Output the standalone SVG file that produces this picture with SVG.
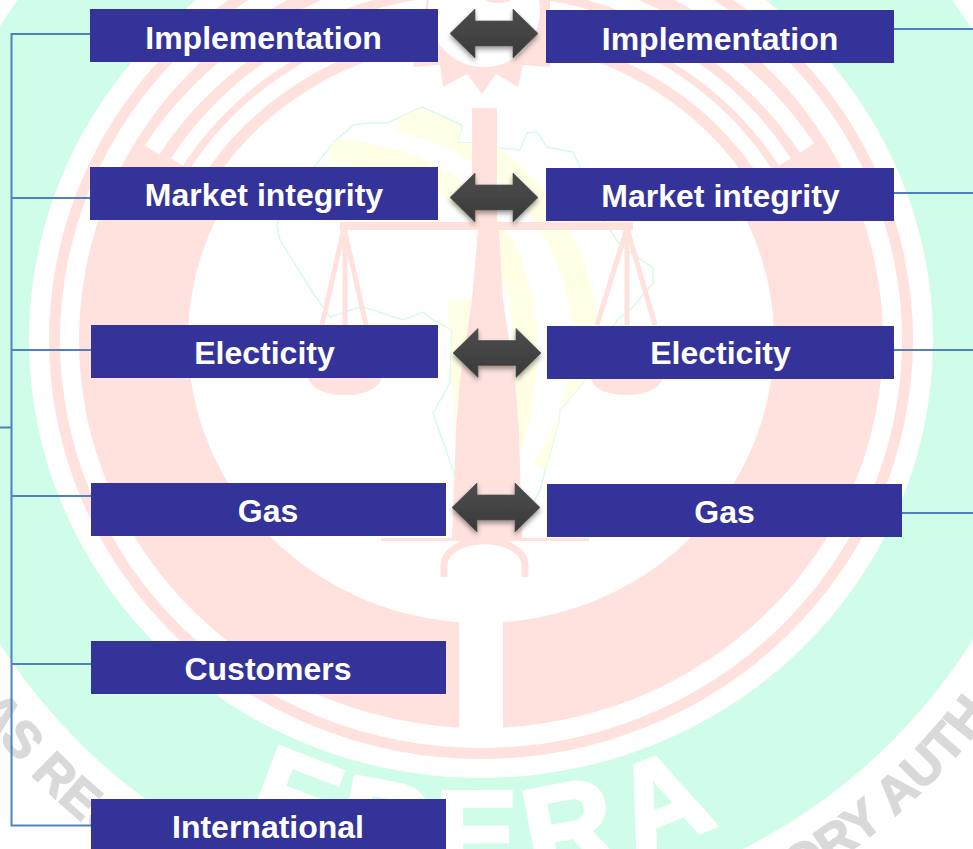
<svg xmlns="http://www.w3.org/2000/svg" xmlns:xlink="http://www.w3.org/1999/xlink" width="973" height="849" viewBox="0 0 973 849">
<style>
.p{fill:#FFE2DD}.w{fill:#fff}
.ps{fill:none;stroke:#FFE2DD}
.slit{fill:none;stroke:#fff}
.y{fill:none;stroke:#FFFFE6}
.box{fill:#343399}
.lbl{font-family:"Liberation Sans",Arial,sans-serif;font-weight:700;font-size:32px;fill:#fff;text-anchor:middle}
.wm{font-family:"Liberation Sans",Arial,sans-serif;font-weight:700;font-size:51px;fill:#D9D9D9;stroke:#D9D9D9;stroke-width:1.5}
.big{font-family:"Liberation Sans",Arial,sans-serif;font-weight:700;font-size:125px;fill:#fff;stroke:#fff;stroke-width:4;letter-spacing:14px;text-anchor:middle}
.c{fill:none;stroke:#4F81BD;stroke-width:2}
</style>
<defs>
<clipPath id="upper"><rect x="0" y="0" width="973" height="190"/></clipPath>
<clipPath id="afr"><polygon points="422,107 462,125 458,143 473,143 500,148 520,150 527,133 537,132 547,147 573,152 580,167 600,215 620,245 653,268 653,283 633,307 617,320 583,383 560,410 559,420 540,490 522,525 470,525 453,470 433,413 450,383 452,330 433,320 423,312 403,320 373,310 360,307 330,317 313,293 280,240 277,227 280,205 300,185 333,143 353,125 370,123 387,123"/></clipPath>
<linearGradient id="ag" x1="0" y1="0" x2="0" y2="1"><stop offset="0" stop-color="#4A4A4A"/><stop offset="0.5" stop-color="#444"/><stop offset="1" stop-color="#383838"/></linearGradient>
<filter id="sh" x="-20%" y="-20%" width="140%" height="150%"><feDropShadow dx="0" dy="3" stdDeviation="2.5" flood-color="#000" flood-opacity="0.4"/></filter>
<polygon id="arr" points="0,0 25,-24.500 25,-12.500 63,-12.500 63,-24.500 88,0 63,24.500 63,12.500 25,12.500 25,24.500" fill="url(#ag)" stroke="#555" stroke-width="0.7" filter="url(#sh)"/>
<path id="wmArc" d="M-147 335A632 632 0 0 0 1117 335"/>
<path id="bigArc" d="M-62 335A543 543 0 0 0 1024 335"/>
</defs>

<g id="watermark">
<rect width="973" height="849" class="w"/>
<circle cx="485" cy="335" r="575" fill="#CFFDE9"/>
<text class="wm"><textPath xlink:href="#wmArc" href="#wmArc" startOffset="400">AS REG</textPath></text>
<text class="wm"><textPath xlink:href="#wmArc" href="#wmArc" startOffset="1318">ORY AUTH</textPath></text>
<text class="big"><textPath xlink:href="#bigArc" href="#bigArc" startOffset="859">ERERA</textPath></text>
<ellipse cx="481" cy="340" rx="452" ry="438" class="w"/>
<ellipse cx="481" cy="340" rx="432" ry="419" class="p"/>
<ellipse cx="481" cy="340" rx="421" ry="408" class="w"/>
<ellipse cx="481" cy="340" rx="402" ry="388" class="p"/>
<path class="slit" stroke-width="17" d="M152 150A387 368 0 0 1 807 148"/>
<path class="slit" stroke-width="14" d="M177 162A358 340 0 0 1 785 162"/>
<path class="slit" stroke-width="15" d="M186 190A335 318 0 0 1 776 190"/>
<ellipse cx="481" cy="340" rx="315" ry="299" class="w" clip-path="url(#upper)"/>
<ellipse cx="481" cy="340" rx="293" ry="283" class="w"/>
<rect x="459" y="600" width="44" height="130" class="w"/>
<polygon points="422,107 462,125 458,143 473,143 500,148 520,150 527,133 537,132 547,147 573,152 580,167 600,215 620,245 653,268 653,283 633,307 617,320 583,383 560,410 559,420 540,490 522,525 470,525 453,470 433,413 450,383 452,330 433,320 423,312 403,320 373,310 360,307 330,317 313,293 280,240 277,227 280,205 300,185 333,143 353,125 370,123 387,123" fill="none" stroke="#D8FBE6" stroke-width="1.500"/>
<g clip-path="url(#afr)">
<path class="y" stroke-width="24" d="M330 150Q510 165 525 330Q530 410 495 480"/>
<path class="y" stroke-width="26" d="M400 118Q560 160 585 320Q590 400 545 470"/>
<path class="y" stroke-width="30" d="M462 300L470 440"/>
</g>
<polygon class="p" points="413,67 427,0 550,0 550,67 523,65 518,87 496,74 482,94 467,74 443,87 440,65"/>
<ellipse cx="484" cy="10" rx="56" ry="57" class="w"/>
<ellipse cx="498" cy="0" rx="12" ry="3" class="p"/>
<rect x="472" y="108" width="25" height="117" class="p"/>
<rect x="340" y="222" width="293" height="8" class="p"/>
<polygon class="p" points="478,230 472,300 460,380 456,430 452,540 522,540 519,430 515,380 503,300 499,230"/>
<rect x="381" y="538" width="208" height="3" class="p"/>
<path class="ps" stroke-width="7" d="M444 577V565A40 24 0 0 1 525 565V577"/>
<path class="ps" stroke-width="5" d="M344 228L322 325M344 228L366 325M345 228V325M627 228L597 325M627 228L655 325M627 228V325"/>
<path class="p" d="M308 378H382Q375 395 345 395Q315 395 308 378Z"/>
<path class="p" d="M590 378H663Q656 395 626 395Q597 395 590 378Z"/>
</g>

<g id="connectors">
<path class="c" d="M90 34H11.500V825.500H91M11.500 198H90M11.500 350H91M11.500 496H91M11.500 664H91M0 427.500H11.500"/>
<path class="c" d="M894 29H973M894 193H973M894 350H973M902 513H973"/>
</g>

<g id="node-implementation-left"><rect class="box" x="90" y="9" width="348" height="53"/><text class="lbl" x="263.500" y="49">Implementation</text></g>
<g id="node-market-left"><rect class="box" x="90" y="167" width="348" height="53"/><text class="lbl" x="264" y="206">Market integrity</text></g>
<g id="node-electricity-left"><rect class="box" x="91" y="325" width="347" height="53"/><text class="lbl" x="264.500" y="364">Electicity</text></g>
<g id="node-gas-left"><rect class="box" x="91" y="483" width="355" height="53"/><text class="lbl" x="268" y="522">Gas</text></g>
<g id="node-customers"><rect class="box" x="91" y="641" width="355" height="53"/><text class="lbl" x="268" y="680">Customers</text></g>
<g id="node-international"><rect class="box" x="91" y="799" width="355" height="53"/><text class="lbl" x="268" y="838">International</text></g>
<g id="node-implementation-right"><rect class="box" x="546" y="10" width="348" height="53"/><text class="lbl" x="720" y="50">Implementation</text></g>
<g id="node-market-right"><rect class="box" x="546" y="168" width="348" height="53"/><text class="lbl" x="720.500" y="207">Market integrity</text></g>
<g id="node-electricity-right"><rect class="box" x="547" y="326" width="347" height="53"/><text class="lbl" x="720.500" y="364">Electicity</text></g>
<g id="node-gas-right"><rect class="box" x="547" y="484" width="355" height="53"/><text class="lbl" x="724.500" y="523">Gas</text></g>

<g id="arrows">
<use href="#arr" xlink:href="#arr" x="450" y="33.500"/>
<use href="#arr" xlink:href="#arr" x="450" y="197.500"/>
<use href="#arr" xlink:href="#arr" x="453" y="353"/>
<use href="#arr" xlink:href="#arr" x="452" y="507.500"/>
</g>
</svg>
